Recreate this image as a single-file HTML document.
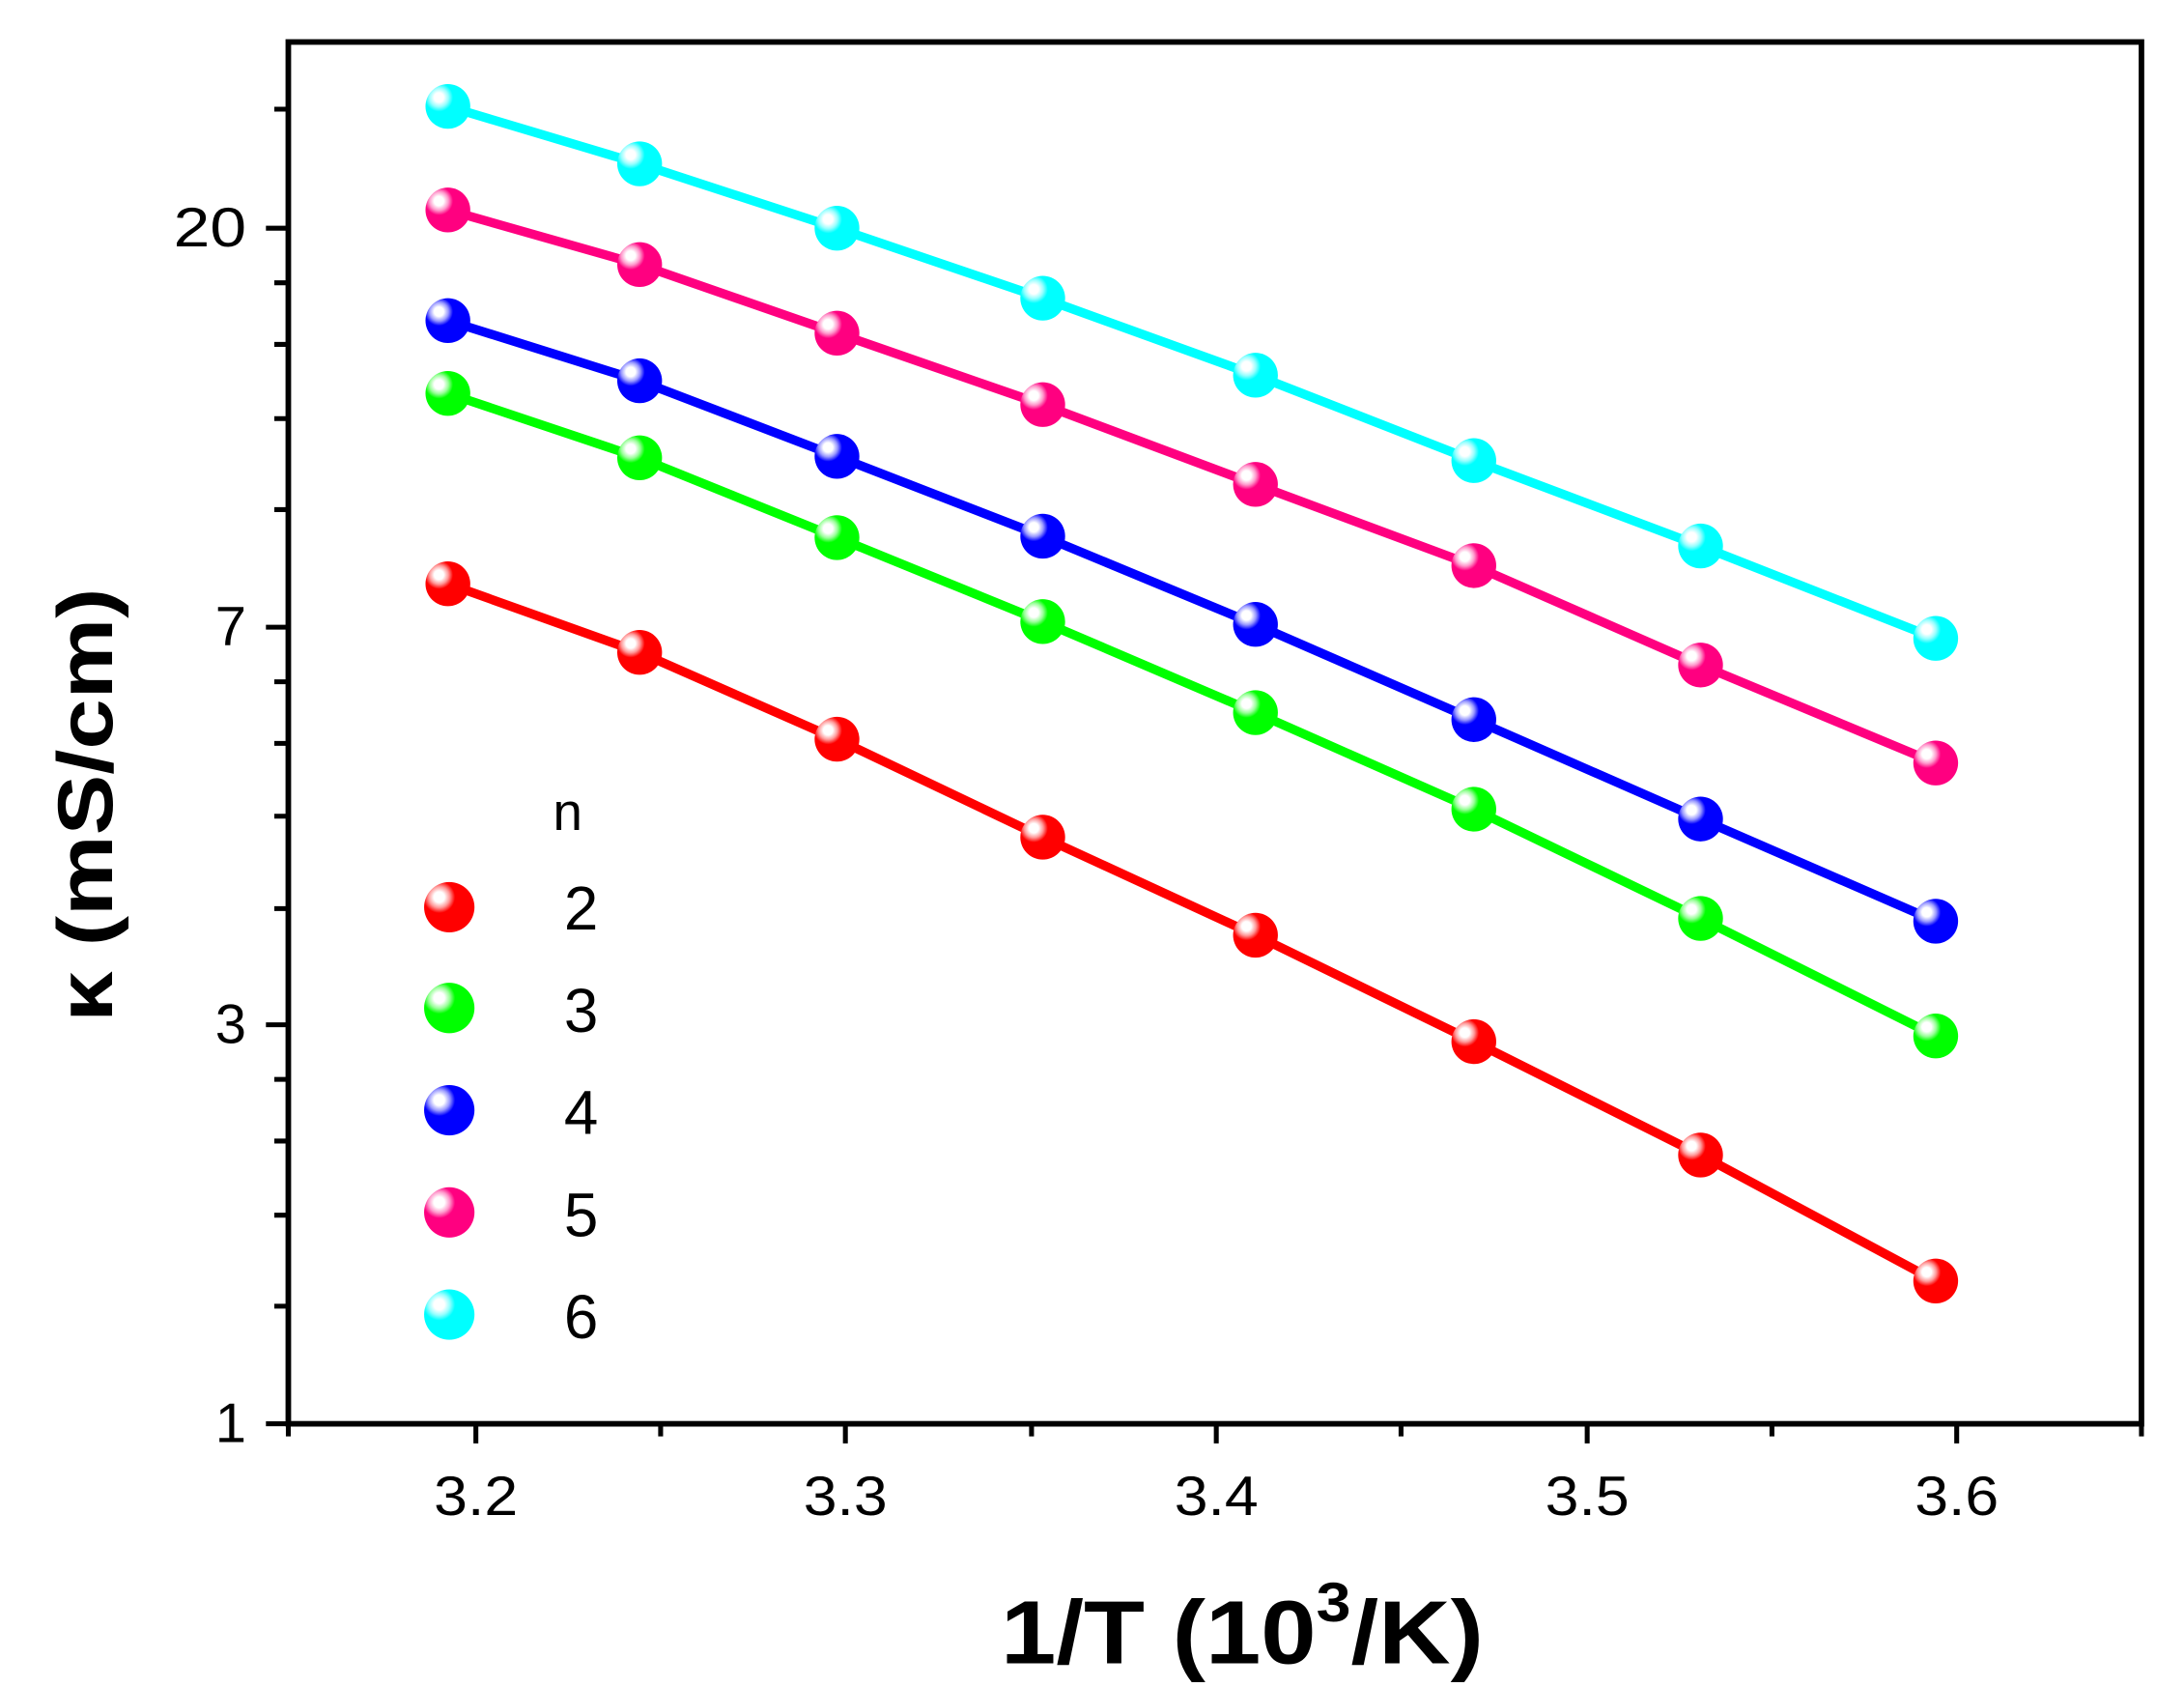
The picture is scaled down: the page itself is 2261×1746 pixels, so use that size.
<!DOCTYPE html>
<html><head><meta charset="utf-8"><style>html,body{margin:0;padding:0;background:#fff}svg{display:block}</style></head>
<body>
<svg width="2261" height="1746" viewBox="0 0 1560.4 1205" preserveAspectRatio="none" xmlns="http://www.w3.org/2000/svg">
<defs>
<radialGradient id="gc" cx="0.3" cy="0.3" r="0.7"><stop offset="0" stop-color="#fff"/><stop offset="0.15" stop-color="#fff"/><stop offset="0.3" stop-color="#9ff"/><stop offset="0.45" stop-color="#0ff"/><stop offset="1" stop-color="#0ff"/></radialGradient>
<radialGradient id="gp" cx="0.3" cy="0.3" r="0.7"><stop offset="0" stop-color="#fff"/><stop offset="0.15" stop-color="#fff"/><stop offset="0.3" stop-color="#f9c"/><stop offset="0.45" stop-color="#ff0080"/><stop offset="1" stop-color="#ff0080"/></radialGradient>
<radialGradient id="gb" cx="0.3" cy="0.3" r="0.7"><stop offset="0" stop-color="#fff"/><stop offset="0.15" stop-color="#fff"/><stop offset="0.3" stop-color="#99f"/><stop offset="0.45" stop-color="#00f"/><stop offset="1" stop-color="#00f"/></radialGradient>
<radialGradient id="gg" cx="0.3" cy="0.3" r="0.7"><stop offset="0" stop-color="#fff"/><stop offset="0.15" stop-color="#fff"/><stop offset="0.3" stop-color="#9f9"/><stop offset="0.45" stop-color="#0f0"/><stop offset="1" stop-color="#0f0"/></radialGradient>
<radialGradient id="gr" cx="0.3" cy="0.3" r="0.7"><stop offset="0" stop-color="#fff"/><stop offset="0.15" stop-color="#fff"/><stop offset="0.3" stop-color="#f99"/><stop offset="0.45" stop-color="#f00"/><stop offset="1" stop-color="#f00"/></radialGradient>
</defs>
<g fill="none" stroke-width="6.5" stroke-linejoin="round">
<polyline stroke="#0ff" points="320,76 457,117 598,163 745,213 897,268 1053,329 1215,390 1383,456"/>
<polyline stroke="#ff0080" points="320,150 457,189 598,238 745,289 897,346 1053,404 1215,475 1383,545"/>
<polyline stroke="#00f" points="320,229 457,272 598,326 745,383 897,446 1053,514 1215,585 1383,658"/>
<polyline stroke="#0f0" points="320,281 457,327 598,384 745,444 897,509 1053,578 1215,656 1383,740"/>
<polyline stroke="#f00" points="320,417 457,466 598,528 745,598 897,668 1053,744 1215,825 1383,915"/>
</g>
<g>
<g fill="url(#gc)"><circle cx="320" cy="76" r="16"/><circle cx="457" cy="117" r="16"/><circle cx="598" cy="163" r="16"/><circle cx="745" cy="213" r="16"/><circle cx="897" cy="268" r="16"/><circle cx="1053" cy="329" r="16"/><circle cx="1215" cy="390" r="16"/><circle cx="1383" cy="456" r="16"/><circle cx="321" cy="939" r="18"/></g>
<g fill="url(#gp)"><circle cx="320" cy="150" r="16"/><circle cx="457" cy="189" r="16"/><circle cx="598" cy="238" r="16"/><circle cx="745" cy="289" r="16"/><circle cx="897" cy="346" r="16"/><circle cx="1053" cy="404" r="16"/><circle cx="1215" cy="475" r="16"/><circle cx="1383" cy="545" r="16"/><circle cx="321" cy="866" r="18"/></g>
<g fill="url(#gb)"><circle cx="320" cy="229" r="16"/><circle cx="457" cy="272" r="16"/><circle cx="598" cy="326" r="16"/><circle cx="745" cy="383" r="16"/><circle cx="897" cy="446" r="16"/><circle cx="1053" cy="514" r="16"/><circle cx="1215" cy="585" r="16"/><circle cx="1383" cy="658" r="16"/><circle cx="321" cy="793" r="18"/></g>
<g fill="url(#gg)"><circle cx="320" cy="281" r="16"/><circle cx="457" cy="327" r="16"/><circle cx="598" cy="384" r="16"/><circle cx="745" cy="444" r="16"/><circle cx="897" cy="509" r="16"/><circle cx="1053" cy="578" r="16"/><circle cx="1215" cy="656" r="16"/><circle cx="1383" cy="740" r="16"/><circle cx="321" cy="720" r="18"/></g>
<g fill="url(#gr)"><circle cx="320" cy="417" r="16"/><circle cx="457" cy="466" r="16"/><circle cx="598" cy="528" r="16"/><circle cx="745" cy="598" r="16"/><circle cx="897" cy="668" r="16"/><circle cx="1053" cy="744" r="16"/><circle cx="1215" cy="825" r="16"/><circle cx="1383" cy="915" r="16"/><circle cx="321" cy="648" r="18"/></g>
</g>
<rect x="206" y="30" width="1324" height="987" fill="none" stroke="#000" stroke-width="4"/>
<g stroke="#000" stroke-width="3.5">
<path d="M340,1017v14M604,1017v14M869,1017v14M1134,1017v14M1398,1017v14"/>
<path d="M206,1017v9M472,1017v9M737,1017v9M1001,1017v9M1266,1017v9M1530,1017v9"/>
<path d="M190,1017h16M190,732h16M190,448h16M190,163h16"/>
<path d="M196,933h10M196,868h10M196,815h10M196,771h10M196,649h10M196,583h10M196,531h10M196,487h10M196,364h10M196,299h10M196,246h10M196,202h10M196,78h10"/>
</g>
<g font-family="Liberation Sans, sans-serif" font-size="40" fill="#000">
<g text-anchor="middle">
<text x="340" y="1082" textLength="60" lengthAdjust="spacingAndGlyphs">3.2</text><text x="604" y="1082" textLength="60" lengthAdjust="spacingAndGlyphs">3.3</text><text x="869" y="1082" textLength="60" lengthAdjust="spacingAndGlyphs">3.4</text><text x="1134" y="1082" textLength="60" lengthAdjust="spacingAndGlyphs">3.5</text><text x="1398" y="1082" textLength="60" lengthAdjust="spacingAndGlyphs">3.6</text>
</g>
<g text-anchor="end">
<text x="176" y="1030">1</text><text x="176" y="745">3</text><text x="176" y="461">7</text><text x="176" y="176" textLength="52" lengthAdjust="spacingAndGlyphs">20</text>
</g>
<text x="395" y="593" font-size="38">n</text>
<g font-size="44"><text x="403" y="664">2</text><text x="403" y="737">3</text><text x="403" y="810">4</text><text x="403" y="883">5</text><text x="403" y="956">6</text></g>
</g>
<g font-family="Liberation Sans, sans-serif" font-weight="bold" fill="#000">
<text x="715" y="1188" font-size="64" textLength="345" lengthAdjust="spacingAndGlyphs">1/T (10<tspan font-size="40" dy="-30">3</tspan><tspan dy="30">/K)</tspan></text>
<text transform="translate(80,730) rotate(-90)" font-size="56" textLength="310" lengthAdjust="spacingAndGlyphs">κ (mS/cm)</text>
</g>
</svg>
</body></html>
